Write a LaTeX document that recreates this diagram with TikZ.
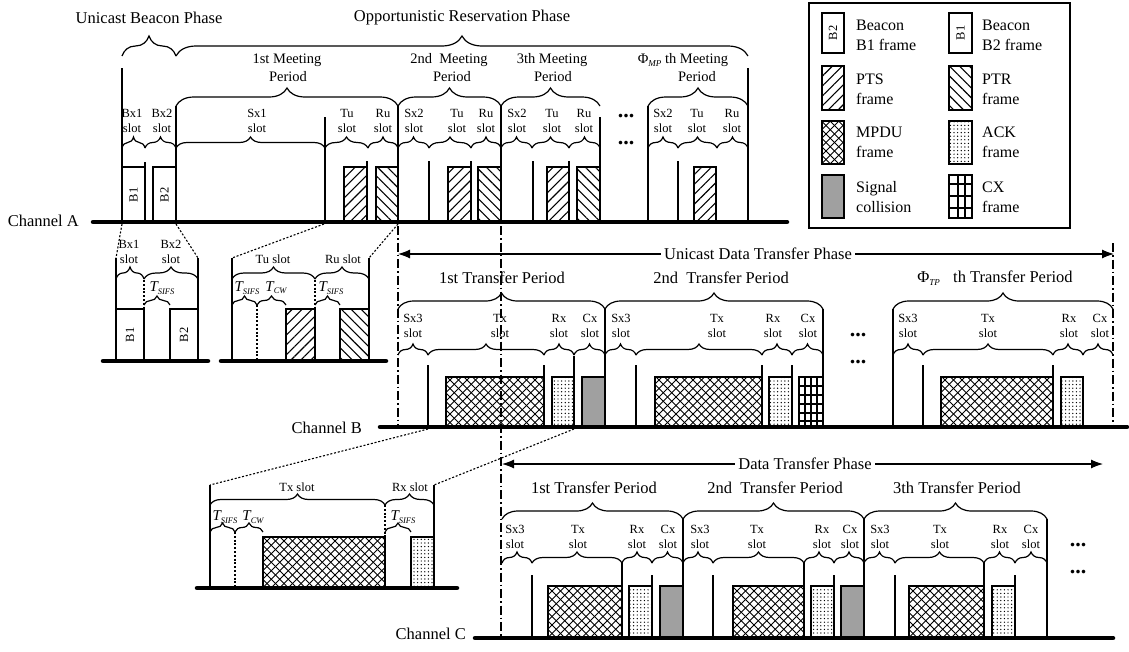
\documentclass[tikz,border=0pt]{standalone}
\usepackage{fontspec}
\setmainfont{Liberation Serif}
\usetikzlibrary{decorations.pathreplacing,patterns.meta,arrows.meta}

\newcommand\fphase{\fontsize{16.5}{19}\selectfont}
\newcommand\fmeet{\fontsize{14.5}{17}\selectfont}
\newcommand\fslot{\fontsize{12.5}{15}\selectfont}
\newcommand\fleg{\fontsize{16}{20}\selectfont}
\newcommand\fdots{\fontsize{22}{22}\selectfont\bfseries}
\newcommand\Tsub[1]{{\fontsize{15}{15}\selectfont\itshape T}\raisebox{-0.5ex}{\fontsize{8.5}{9}\selectfont\itshape #1}}
\newcommand\Phisub[1]{Φ\raisebox{-0.45ex}{\fontsize{9}{9}\selectfont\itshape #1}}

\definecolor{collgray}{RGB}{160,160,160}

\begin{document}
\begin{tikzpicture}[x=1pt,y=-1pt,
  chan/.style={line width=4.5pt, line cap=round},
  slotsep/.style={line width=1.3pt},
  frm/.style={draw, line width=1.4pt},
  pts/.style={frm, pattern={Lines[angle=45,distance=7pt,line width=1.1pt]}},
  ptr/.style={frm, pattern={Lines[angle=-45,distance=7pt,line width=1.1pt]}},
  mpdu/.style={frm, path picture={
    \foreach \k in {0,...,24}{
      \draw[line width=0.9pt] ([xshift=\k*8.5pt-60pt]path picture bounding box.south west) -- ++(80pt,80pt);
      \draw[line width=0.9pt] ([xshift=\k*8.5pt]path picture bounding box.south west) -- ++(-80pt,80pt);
    }}},
  ack/.style={frm, pattern={Dots[distance=3.6pt,radius=0.7pt]}},
  coll/.style={frm, fill=collgray},
  plainfrm/.style={frm, fill=white},
  gridln/.style={line width=1.1pt},
  brc/.style={decorate, decoration={brace, amplitude=#1}, line width=1.2pt},
  brc/.default=11pt,
  dotln/.style={line width=1.1pt, dash pattern=on 2pt off 1.8pt},
  phaseln/.style={line width=1.1pt, dash pattern=on 9pt off 3pt on 1.5pt off 3pt},
  slotlbl/.style={font=\fslot, align=center, inner sep=0pt},
  meetlbl/.style={font=\fmeet, inner sep=0pt},
  phaselbl/.style={font=\fphase, inner sep=1pt},
  leglbl/.style={font=\fleg, align=left, anchor=west, inner sep=0pt},
  dotsnode/.style={font=\fdots, inner sep=0pt},
  dblarrow/.style={line width=1.1pt, {Latex[length=12pt,width=9pt]}-{Latex[length=12pt,width=9pt]}}
]
\useasboundingbox (0,0) rectangle (1129,651);

% ================= Channel A: beacon and reservation phases =================
\node[phaselbl] (ubp) at (149,18) {Unicast Beacon Phase};
\node[phaselbl] (orp) at (462,18) {Opportunistic Reservation Phase};
\draw[brc=20pt] (122,56) -- (176,56);
\draw[brc=20pt] (176,56) -- (748,56);

% meeting periods
\foreach \a/\b in {176/398, 398/501, 501/600, 648/748}
  \draw[brc=18pt] (\a,106) -- (\b,106);
\node[meetlbl] (m1a) at (287,60) {1st Meeting};
\node[meetlbl] (m1b) at (288,77) {Period};
\node[meetlbl] (m2a) at (449,60) {2nd~~Meeting};
\node[meetlbl] (m2b) at (452,77) {Period};
\node[meetlbl] (m3a) at (552,60) {3th Meeting};
\node[meetlbl] (m3b) at (553,77) {Period};
\node[meetlbl] (m4a) at (683,60) {\Phisub{MP} th Meeting};
\node[meetlbl] (m4b) at (697,77) {Period};

% slots of channel A
\foreach \a/\b/\t/\lx [count=\i] in {122/145/Bx1/132, 145/176/Bx2/162, 176/325/Sx1/257,
    325/368/Tu/347, 368/398/Ru/383, 398/429/Sx2/414, 429/471/Tu/457, 471/501/Ru/486,
    501/532/Sx2/517, 532/569/Tu/552, 569/600/Ru/584, 648/678/Sx2/663, 678/717/Tu/697,
    717/748/Ru/732}{
  \draw[brc] (\a,148) -- (\b,148);
  \node[slotlbl] (sa\i) at (\lx,121) {\t\\slot};
}
\foreach \x/\y in {122/68, 145/162, 176/106, 325/117, 367/161, 398/106, 429/161, 471/161,
    501/106, 533/161, 569/161, 600/117, 648/106, 678/161, 748/68}
  \draw[slotsep] (\x,\y) -- (\x,222);

\draw[plainfrm] (122,167) rectangle (145,222);
\node[slotlbl, rotate=90] (b1) at (133.5,195) {B1};
\draw[plainfrm] (153,167) rectangle (176,222);
\node[slotlbl, rotate=90] (b2) at (164.5,195) {B2};
\foreach \a/\b in {344/367, 448/471, 547/569, 694/716}
  \draw[pts] (\a,167) rectangle (\b,222);
\foreach \a/\b in {376/398, 478/501, 577/600}
  \draw[ptr] (\a,167) rectangle (\b,222);

\node[dotsnode] (dA1) at (626,116) {...};
\node[dotsnode] (dA2) at (626,143) {...};

\coordinate (a0) at (93,222);
\coordinate (a1) at (787,222);
\draw[chan] (a0) -- (a1);
\node[phaselbl, anchor=east] (chA) at (80,221) {Channel A};

% ================= Legend =================
\draw[line width=1.2pt] (809,3) rectangle (1070,228);
\draw[plainfrm] (822,13) rectangle (844,53);
\node[slotlbl, rotate=90] (lgB2) at (833,33) {B2};
\node[leglbl] (lg1) at (856,35) {Beacon\\B1 frame};
\draw[plainfrm] (949,13) rectangle (972,53);
\node[slotlbl, rotate=90] (lgB1) at (960.5,33) {B1};
\node[leglbl] (lg2) at (982,35) {Beacon\\B2 frame};
\draw[pts] (822,66) rectangle (844,110);
\node[leglbl] (lg3) at (856,89.5) {PTS\\frame};
\draw[ptr] (949,66) rectangle (972,110);
\node[leglbl] (lg4) at (982,89.5) {PTR\\frame};
\draw[mpdu] (822,121) rectangle (844,164);
\node[leglbl] (lg5) at (856,142) {MPDU\\frame};
\draw[ack] (949,121) rectangle (972,164);
\node[leglbl] (lg6) at (982,142) {ACK\\frame};
\draw[coll] (822,175) rectangle (844,218);
\node[leglbl] (lg7) at (856,197) {Signal\\collision};
\draw[frm] (949,175) rectangle (972,218);
\foreach \x in {958,965} \draw[gridln] (\x,175) -- (\x,218);
\foreach \y in {184,196,208} \draw[gridln] (949,\y) -- (972,\y);
\node[leglbl] (lg8) at (982,197) {CX\\frame};

% ================= Inset: beacon slots =================
\coordinate (i1a) at (116,258);
\coordinate (i1b) at (198,258);
\draw[dotln] (122,224) -- (i1a);
\draw[dotln] (176,224) -- (i1b);
\draw[slotsep] (i1a) -- (116,361);
\draw[slotsep] (i1b) -- (198,361);
\node[slotlbl] (i1l1) at (129,251.5) {Bx1\\slot};
\node[slotlbl] (i1l2) at (171,251.5) {Bx2\\slot};
\draw[brc=12pt] (116,279) -- (144,279);
\draw[brc=12pt] (144,279) -- (198,279);
\draw[dotln] (144,280) -- (144,309);
\node[inner sep=0pt] (i1t) at (162,288) {\Tsub{SIFS}};
\draw[brc=9pt] (144,305) -- (170,305);
\draw[plainfrm] (116,309) rectangle (144,361);
\node[slotlbl, rotate=90] (ib1) at (130,335) {B1};
\draw[plainfrm] (170,309) rectangle (198,361);
\node[slotlbl, rotate=90] (ib2) at (184,335) {B2};
\draw[chan] (103,361) -- (208,361);

% ================= Inset: Tu / Ru slots =================
\coordinate (i2a) at (232,258);
\coordinate (i2b) at (369,258);
\draw[dotln] (324,224) -- (i2a);
\draw[dotln] (398,224) -- (i2b);
\draw[slotsep] (i2a) -- (232,361);
\draw[slotsep] (i2b) -- (369,361);
\node[slotlbl] (i2l1) at (273,259) {Tu slot};
\node[slotlbl] (i2l2) at (343,259) {Ru slot};
\draw[brc=12pt] (232,279) -- (315,279);
\draw[brc=12pt] (315,279) -- (369,279);
\node[inner sep=0pt] (i2t1) at (247,288) {\Tsub{SIFS}};
\node[inner sep=0pt] (i2t2) at (276,288) {\Tsub{CW}};
\node[inner sep=0pt] (i2t3) at (331,288) {\Tsub{SIFS}};
\draw[brc=9pt] (232,305) -- (257,305);
\draw[brc=9pt] (257,305) -- (286,305);
\draw[brc=9pt] (315,305) -- (340,305);
\draw[dotln] (257,305) -- (257,361);
\draw[dotln] (315,280) -- (315,309);
\draw[pts] (286,309) rectangle (315,361);
\draw[ptr] (340,309) rectangle (369,361);
\draw[chan] (221,361) -- (386,361);

% ================= Channel B: unicast data transfer phase =================
\draw[phaseln] (398,226) -- (398,427);
\draw[phaseln] (501,226) -- (501,638);
\draw[phaseln] (1113,243) -- (1113,427);
\coordinate (ub0) at (398,254);
\coordinate (ub1) at (1114,254);
\draw[dblarrow] (ub0) -- (ub1);
\node[phaselbl, fill=white, inner xsep=3pt] (udtp) at (758,254) {Unicast Data Transfer Phase};

\node[phaselbl] (tb1) at (502,278) {1st Transfer Period};
\node[phaselbl] (tb2) at (721,278) {2nd~~Transfer Period};
\node[phaselbl] (tb3) at (995,278) {\Phisub{TP}\hspace{0.8em}th Transfer Period};
\foreach \a/\b in {398/605, 605/823, 893/1113}
  \draw[brc=16pt] (\a,309) -- (\b,309);

\foreach \a/\b/\t/\lx [count=\i] in {398/428/Sx3/413, 428/544/Tx/500, 544/574/Rx/559, 574/605/Cx/590,
    605/636/Sx3/621, 636/762/Tx/717, 762/792/Rx/773, 792/823/Cx/808,
    893/923/Sx3/908, 923/1053/Tx/988, 1053/1083/Rx/1069, 1083/1113/Cx/1100}{
  \draw[brc] (\a,355) -- (\b,355);
  \node[slotlbl] (sb\i) at (\lx,325.5) {\t\\slot};
}
\foreach \x/\y in {428/365, 544/365, 574/356, 605/309, 636/365, 762/365, 792/365, 823/309,
    893/309, 923/365, 1053/365}
  \draw[slotsep] (\x,\y) -- (\x,427);

\draw[mpdu] (446,377) rectangle (544,427);
\draw[ack] (552,377) rectangle (574,427);
\draw[coll] (582,377) rectangle (605,427);
\draw[mpdu] (655,377) rectangle (762,427);
\draw[ack] (769,377) rectangle (792,427);
\draw[frm] (799,377) rectangle (823,427);
\foreach \x in {805,811,817} \draw[gridln] (\x,377) -- (\x,427);
\foreach \y in {386,395,404,413,421} \draw[gridln] (799,\y) -- (823,\y);
\draw[mpdu] (941,377) rectangle (1053,427);
\draw[ack] (1061,377) rectangle (1083,427);

\node[dotsnode] (dB1) at (858,335) {...};
\node[dotsnode] (dB2) at (858,362) {...};

\coordinate (b0) at (380,427);
\coordinate (b1r) at (1127,427);
\draw[chan] (b0) -- (b1r);
\node[phaselbl, anchor=east] (chB) at (363,428) {Channel B};

% ================= Inset: Tx / Rx slots =================
\coordinate (i3a) at (210,485);
\coordinate (i3b) at (434,485);
\draw[dotln] (428,429) -- (i3a);
\draw[dotln] (574,429) -- (i3b);
\draw[slotsep] (i3a) -- (210,588);
\draw[slotsep] (i3b) -- (434,588);
\node[slotlbl] (i3l1) at (297,487) {Tx slot};
\node[slotlbl] (i3l2) at (410,487) {Rx slot};
\draw[brc=11pt] (210,505) -- (385,505);
\draw[brc=11pt] (385,505) -- (434,505);
\node[inner sep=0pt] (i3t1) at (225,517) {\Tsub{SIFS}};
\node[inner sep=0pt] (i3t2) at (253,517) {\Tsub{CW}};
\node[inner sep=0pt] (i3t3) at (403,517) {\Tsub{SIFS}};
\draw[brc=9pt] (210,532) -- (235,532);
\draw[brc=9pt] (235,532) -- (263,532);
\draw[brc=9pt] (385,532) -- (411,532);
\draw[dotln] (235,532) -- (235,588);
\draw[dotln] (385,505) -- (385,537);
\draw[mpdu] (263,537) rectangle (385,588);
\draw[ack] (411,537) rectangle (434,588);
\draw[chan] (197,588) -- (457,588);

% ================= Channel C: data transfer phase =================
\coordinate (uc0) at (502,464);
\coordinate (uc1) at (1103,464);
\draw[dblarrow] (uc0) -- (uc1);
\node[phaselbl, fill=white, inner xsep=3pt] (dtp) at (805,464) {Data Transfer Phase};

\node[phaselbl] (tc1) at (594,488) {1st Transfer Period};
\node[phaselbl] (tc2) at (775,488) {2nd~~Transfer Period};
\node[phaselbl] (tc3) at (957,488) {3th Transfer Period};
\foreach \a/\b in {502/683, 683/864, 864/1047}
  \draw[brc=16pt] (\a,519) -- (\b,519);

\foreach \a/\b/\t/\lx [count=\i] in {502/532/Sx3/515, 532/622/Tx/578, 622/652/Rx/637, 652/683/Cx/668,
    683/713/Sx3/700, 713/804/Tx/757, 804/834/Rx/822, 834/864/Cx/850,
    864/895/Sx3/880, 895/984/Tx/940, 984/1015/Rx/1000, 1015/1047/Cx/1031}{
  \draw[brc] (\a,563) -- (\b,563);
  \node[slotlbl] (sc\i) at (\lx,537) {\t\\slot};
}
\foreach \x/\y in {532/575, 622/562, 652/575, 683/519, 713/575, 804/562, 834/575, 864/519,
    895/575, 984/562, 1015/575, 1047/519}
  \draw[slotsep] (\x,\y) -- (\x,638);

\draw[mpdu] (548,586) rectangle (622,638);
\draw[ack] (629,586) rectangle (652,638);
\draw[coll] (660,586) rectangle (683,638);
\draw[mpdu] (733,586) rectangle (804,638);
\draw[ack] (811,586) rectangle (834,638);
\draw[coll] (841,586) rectangle (864,638);
\draw[mpdu] (909,586) rectangle (984,638);
\draw[ack] (992,586) rectangle (1015,638);

\node[dotsnode] (dC1) at (1078,545) {...};
\node[dotsnode] (dC2) at (1078,572) {...};

\coordinate (c0) at (475,638);
\coordinate (c1) at (1113,638);
\draw[chan] (c0) -- (c1);
\node[phaselbl, anchor=east] (chC) at (467,634) {Channel C};
\end{tikzpicture}
\end{document}
